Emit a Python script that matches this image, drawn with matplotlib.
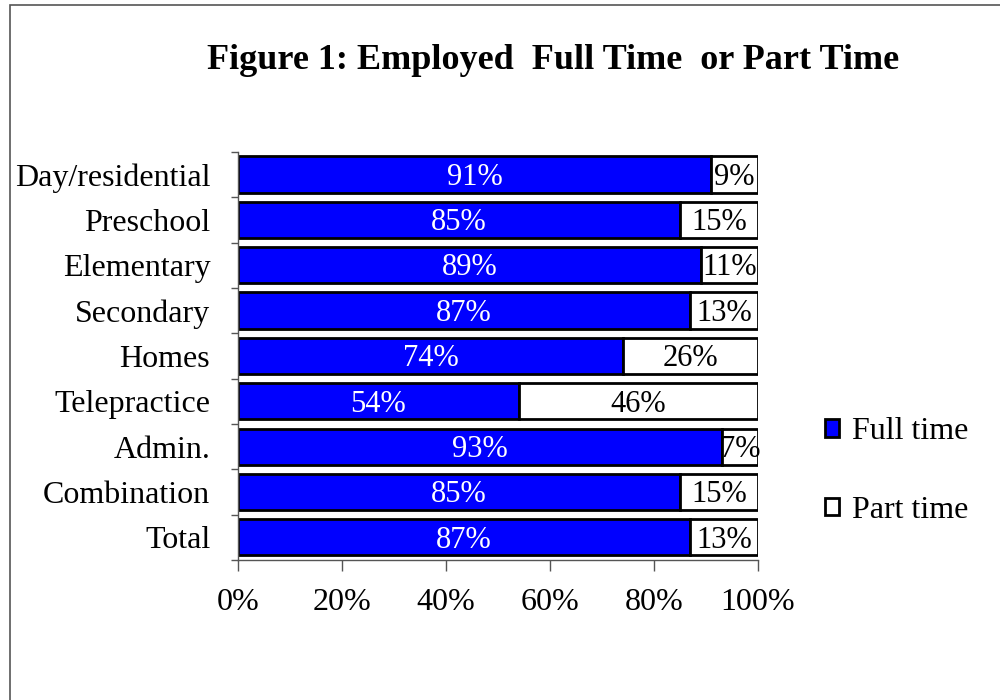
import matplotlib.pyplot as plt
from matplotlib.patches import Rectangle
import numpy as np

categories = ['Day/residential', 'Preschool', 'Elementary', 'Secondary', 'Homes',
              'Telepractice', 'Admin.', 'Combination', 'Total']
full_time = [91, 85, 89, 87, 74, 54, 93, 85, 87]
part_time = [9, 15, 11, 13, 26, 46, 7, 15, 13]
x_ticks = [0, 20, 40, 60, 80, 100]

plt.rcParams['font.family'] = ['Liberation Serif', 'DejaVu Serif']

fig = plt.figure(figsize=(10, 7), dpi=100)
ax = fig.add_axes([0.238, 0.2, 0.52, 0.583])

# outer frame (only left and top edges visible in the original crop)
fig.patches.append(Rectangle((0.010, -0.1), 1.5, 1.093, transform=fig.transFigure,
                             fill=False, edgecolor='#555555', linewidth=1.2))

y = np.arange(len(categories))
h = 0.8
b1 = ax.barh(y, full_time, height=h, color='#0000ff', edgecolor='black',
             linewidth=2, label='Full time')
b2 = ax.barh(y, part_time, left=full_time, height=h, color='white',
             edgecolor='black', linewidth=2, label='Part time')

for i in range(len(categories)):
    ax.text(full_time[i] / 2, y[i] + 0.06, f'{full_time[i]}%', ha='center',
            va='center', color='white', fontsize=22)
    ax.text(full_time[i] + part_time[i] / 2, y[i] + 0.06, f'{part_time[i]}%',
            ha='center', va='center', color='black', fontsize=22)

ax.set_xlim(0, 100)
ax.set_ylim(len(categories) - 0.5, -0.5)
ax.set_xticks(x_ticks)
ax.set_xticklabels([f'{v}%' for v in x_ticks], fontsize=23)
ax.set_yticks(y)
ax.set_yticklabels(categories, fontsize=23)
ax.set_yticks(np.arange(-0.5, len(categories)), minor=True)
ax.tick_params(axis='y', which='major', length=0, pad=20)
ax.tick_params(axis='y', which='minor', length=5, width=1, color='#555555')
ax.tick_params(axis='x', length=8, width=1, color='#555555', pad=12)

for s in ['top', 'right']:
    ax.spines[s].set_visible(False)
for s in ['left', 'bottom']:
    ax.spines[s].set_color('#555555')
    ax.spines[s].set_linewidth(1)

fig.text(0.553, 0.913, 'Figure 1: Employed  Full Time  or Part Time', ha='center',
         va='center', fontsize=26, fontweight='bold')

leg = fig.legend(handles=[b1, b2], loc='center left', bbox_to_anchor=(0.796, 0.327),
                 frameon=False, fontsize=23, handlelength=0.45, handleheight=0.45,
                 handletextpad=0.4, labelspacing=1.55)

fig.savefig('out.png', dpi=100)
